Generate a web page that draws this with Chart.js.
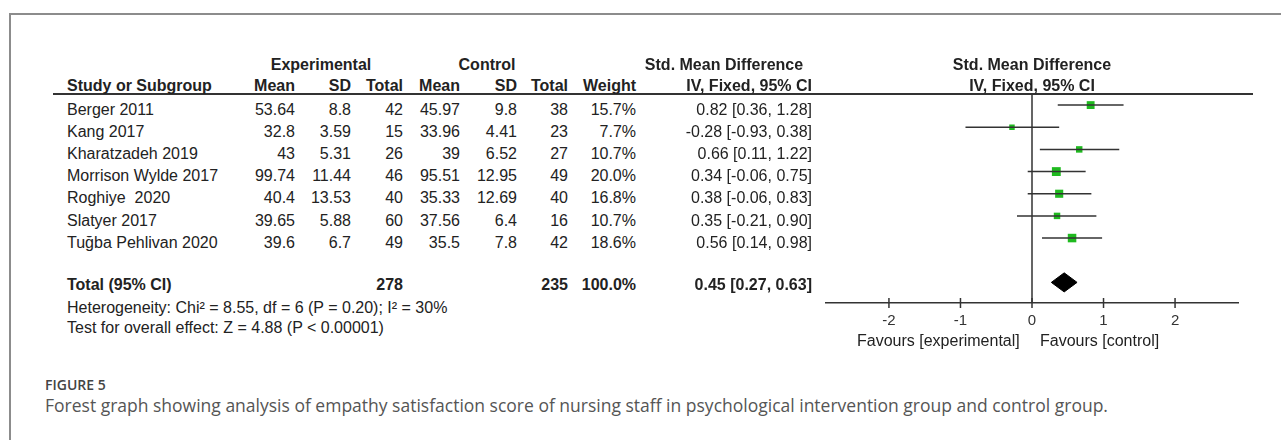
<!DOCTYPE html>
<html lang="en">
<head>
<meta charset="UTF-8">
<title>Forest plot - empathy satisfaction score</title>
<script src="https://cdn.jsdelivr.net/npm/chart.js@4.4.0/dist/chart.umd.min.js"></script>
<style>
    body{
        margin: 0;
        width: 1281px;
        height: 440px;
        overflow: hidden;
        position: relative;
        background: #fff;
        font-family: "Liberation Sans", Arial, sans-serif;
        color: #222;
    }
    #frame{
        position: absolute;
        left: 9px; top: 13px; right: -2px; bottom: -2px;
        border-left: 2px solid #8c8c8c;
        border-top: 2px solid #8c8c8c;
    }
    .t{
        position: absolute;
        font-size: 16px;
        line-height: 22px;
        white-space: pre;
    }
    .b{ font-weight: bold; }
    #hline{
        position: absolute;
        left: 53px; top: 93px;
        width: 1200px; height: 2px;
        background: #333;
    }
    #plotWrap{
        position: absolute;
        left: 790px; top: 60px;
        width: 480px; height: 300px;
    }
    #figLabel{
        position: absolute;
        left: 45px; top: 376px;
        font-family: "Open Sans", sans-serif;
        font-weight: 600;
        font-size: 14px;
        line-height: 17px;
        color: #444;
    }
    #caption{
        position: absolute;
        left: 45px; top: 394px;
        font-family: "Open Sans", sans-serif;
        font-size: 17.5px;
        line-height: 22px;
        color: #555;
        white-space: nowrap;
    }
</style>
</head>
<body>
<div id="frame"></div>
<div id="hline"></div>
<div id="plotWrap"><canvas id="forest" width="480" height="300"></canvas></div>
<div id="figLabel">FIGURE 5</div>
<div id="caption">Forest graph showing analysis of empathy satisfaction score of nursing staff in psychological intervention group and control group.</div>
<script>
// study data
const studies = ["Berger 2011", "Kang 2017", "Kharatzadeh 2019", "Morrison Wylde 2017", "Roghiye  2020", "Slatyer 2017", "Tuğba Pehlivan 2020"];
const expMean = [53.64, 32.8, 43, 99.74, 40.4, 39.65, 39.6];
const expSD = [8.8, 3.59, 5.31, 11.44, 13.53, 5.88, 6.7];
const expTotal = [42, 15, 26, 46, 40, 60, 49];
const ctlMean = [45.97, 33.96, 39, 95.51, 35.33, 37.56, 35.5];
const ctlSD = [9.8, 4.41, 6.52, 12.95, 12.69, 6.4, 7.8];
const ctlTotal = [38, 23, 27, 49, 40, 16, 42];
const weight = [15.7, 7.7, 10.7, 20.0, 16.8, 10.7, 18.6];
const smd = [0.82, -0.28, 0.66, 0.34, 0.38, 0.35, 0.56];
const ciLow = [0.36, -0.93, 0.11, -0.06, -0.06, -0.21, 0.14];
const ciHigh = [1.28, 0.38, 1.22, 0.75, 0.83, 0.90, 0.98];
const pooled = [0.45, 0.27, 0.63];   // estimate, low, high
const totals = [278, 235];
const xTicks = [-2, -1, 0, 1, 2];
const heterogeneity = "Heterogeneity: Chi² = 8.55, df = 6 (P = 0.20); I² = 30%";
const overallTest = "Test for overall effect: Z = 4.88 (P < 0.00001)";

function put(text, x, y, align, bold){
    var d = document.createElement("div");
    d.className = "t" + (bold ? " b" : "");
    d.textContent = text;
    d.style.left = x + "px";
    d.style.top = (y - 11) + "px";
    if(align == "right") d.style.transform = "translateX(-100%)";
    if(align == "center") d.style.transform = "translateX(-50%)";
    document.body.appendChild(d);
}
function ciText(e, l, h){
    return e.toFixed(2) + " [" + l.toFixed(2) + ", " + h.toFixed(2) + "]";
}

// table
var cols = [295, 351, 403, 460, 517, 568, 636, 812];
put("Experimental", 321, 65, "center", true);
put("Control", 487, 65, "center", true);
put("Std. Mean Difference", 724, 65, "center", true);
put("Std. Mean Difference", 1032, 65, "center", true);
put("Study or Subgroup", 67, 86, "left", true);
["Mean", "SD", "Total", "Mean", "SD", "Total", "Weight", "IV, Fixed, 95% CI"].forEach(function(h, k){
    put(h, cols[k], 86, "right", true);
});
put("IV, Fixed, 95% CI", 1032, 86, "center", true);

for(var i = 0; i < studies.length; i++){
    var y = 110 + i * 22.1;
    put(studies[i], 67, y, "left");
    var vals = [expMean[i], expSD[i], expTotal[i], ctlMean[i], ctlSD[i], ctlTotal[i],
                weight[i].toFixed(1) + "%", ciText(smd[i], ciLow[i], ciHigh[i])];
    vals.forEach(function(v, k){ put(String(v), cols[k], y, "right"); });
}
put("Total (95% CI)", 67, 285, "left", true);
put(String(totals[0]), cols[2], 285, "right", true);
put(String(totals[1]), cols[5], 285, "right", true);
put("100.0%", cols[6], 285, "right", true);
put(ciText(pooled[0], pooled[1], pooled[2]), cols[7], 285, "right", true);
put(heterogeneity, 67, 308, "left");
put(overallTest, 67, 328, "left");
put("Favours [experimental]", 857, 341, "left");
put("Favours [control]", 1040, 341, "left");

// forest plot
var yMin = -0.5, yMax = 8.93, totalRow = 8, dHalf = 0.43;
var datasets = [];
datasets.push({
    data: [{x: 0, y: yMin}, {x: 0, y: yMax}],
    showLine: true, borderColor: "#333", borderWidth: 1.5, pointRadius: 0, clip: false
});
studies.forEach(function(s, i){
    datasets.push({
        data: [{x: ciLow[i], y: i}, {x: ciHigh[i], y: i}],
        showLine: true, borderColor: "#333", borderWidth: 1.5, pointRadius: 0, clip: false
    });
});
datasets.push({
    data: smd.map(function(v, i){ return {x: v, y: i}; }),
    pointStyle: "rect",
    pointRadius: weight.map(function(w){ return 1.4 * Math.sqrt(w); }),
    pointBackgroundColor: "#1fba1f",
    pointBorderWidth: 0,
    clip: false
});
datasets.push({
    data: [
        {x: pooled[1], y: totalRow},
        {x: pooled[0], y: totalRow - dHalf},
        {x: pooled[2], y: totalRow},
        {x: pooled[0], y: totalRow + dHalf},
        {x: pooled[1], y: totalRow}
    ],
    showLine: true, fill: "shape", tension: 0,
    backgroundColor: "#000", borderColor: "#000", borderWidth: 1, pointRadius: 0, clip: false
});
datasets.push({
    data: xTicks.map(function(v){ return {x: v, y: yMax}; }),
    pointStyle: "line", rotation: 90, pointRadius: 5,
    pointBorderColor: "#333", pointBorderWidth: 1.5, clip: false
});

new Chart("forest", {
    type: "scatter",
    data: { datasets: datasets },
    options: {
        responsive: false,
        animation: false,
        events: [],
        layout: { padding: { left: 36, right: 32, top: 34, bottom: 0 } },
        plugins: { legend: { display: false }, tooltip: { enabled: false } },
        scales: {
            x: {
                type: "linear",
                min: -2.88, max: 2.88,
                afterBuildTicks: function(s){ s.ticks = xTicks.map(function(v){ return {value: v}; }); },
                afterFit: function(s){ s.height = 57; },
                grid: { drawOnChartArea: false, drawTicks: false },
                border: { color: "#333", width: 1.5 },
                ticks: {
                    color: "#333", padding: 9, autoSkip: false, maxRotation: 0,
                    font: { family: "Liberation Sans", size: 15 }
                }
            },
            y: { display: false, reverse: true, min: yMin, max: yMax }
        }
    }
});
</script>
</body>
</html>
